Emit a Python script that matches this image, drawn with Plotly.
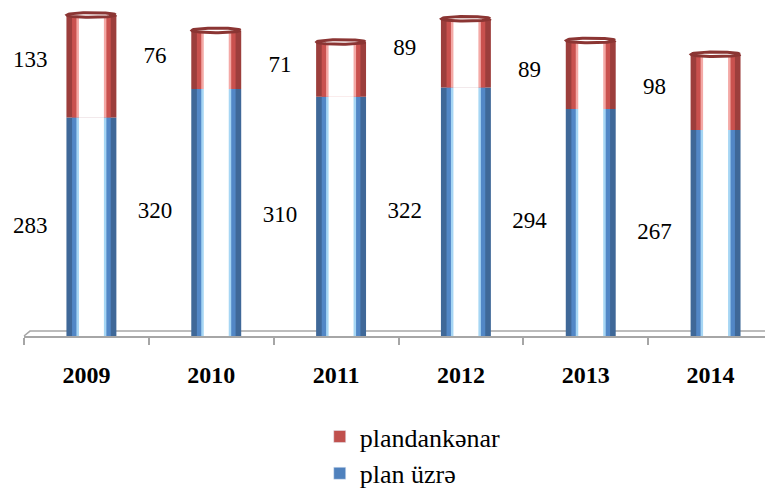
import numpy as np
import plotly.graph_objects as go

years = ['2009', '2010', '2011', '2012', '2013', '2014']
plan_uzre = [283, 320, 310, 322, 294, 267]
plandankenar = [133, 76, 71, 89, 89, 98]

x = list(range(len(years)))
totals = [a + b for a, b in zip(plan_uzre, plandankenar)]

fig = go.Figure()

# cylinder look: dark outer bar, lighter inner bars, white core
shift = 0.04
layers = [
    (0.40, '#3f6898', '#9c3e3c'),
    (0.31, '#5287c6', '#c9514e'),
    (0.24, '#a6d6f4', '#f4a9a6'),
    (0.20, 'white', 'white'),
]
for w, cb, cr in layers:
    fig.add_trace(go.Bar(x=x, y=plan_uzre, base=0, width=w, offset=-w / 2 + shift,
                         marker=dict(color=cb, line_width=0), showlegend=False, hoverinfo='skip'))
    fig.add_trace(go.Bar(x=x, y=plandankenar, base=plan_uzre, width=w, offset=-w / 2 + shift,
                         marker=dict(color=cr, line_width=0), showlegend=False, hoverinfo='skip'))

# top caps (ellipse)
t = np.linspace(0, 2 * np.pi, 60)
for i, tot in enumerate(totals):
    fig.add_trace(go.Scatter(x=i + shift + 0.195 * np.cos(t), y=tot + 3.0 * np.sin(t),
                             mode='lines', line=dict(color='#8b3533', width=3),
                             fill='toself', fillcolor='white', showlegend=False, hoverinfo='skip'))

# value labels left of bars
lab_font = dict(family='Liberation Serif', size=23, color='black')
fig.add_trace(go.Scatter(x=[i - 0.45 for i in x], y=[v / 2 for v in plan_uzre], mode='text',
                         text=[str(v) for v in plan_uzre], showlegend=False, hoverinfo='skip',
                         textfont=lab_font, cliponaxis=False))
fig.add_trace(go.Scatter(x=[i - 0.45 for i in x], y=[a + b * 0.55 for a, b in zip(plan_uzre, plandankenar)],
                         mode='text', text=[str(v) for v in plandankenar], showlegend=False, hoverinfo='skip',
                         textfont=lab_font, cliponaxis=False))

# legend entries
fig.add_trace(go.Bar(x=[None], y=[None], name='plandankənar', marker_color='#c0504d'))
fig.add_trace(go.Bar(x=[None], y=[None], name='plan üzrə', marker_color='#4f81bd'))

# 3d floor
fig.add_shape(type='path', xref='paper', yref='paper',
              path='M 0 0 L 0.008 0.015 L 1 0.015',
              line=dict(color='#a6a6a6', width=1.5), layer='below')

# page body adds 8px offset, so figure is 765x484
fig.update_layout(
    width=765, height=484,
    barmode='overlay',
    plot_bgcolor='white', paper_bgcolor='white',
    margin=dict(l=16, r=0, t=0, b=156, autoexpand=False),
    font=dict(family='Liberation Serif', color='black'),
    legend=dict(orientation='v', x=0.519, xanchor='center', y=-0.235, yanchor='top',
                font=dict(size=26, family='Liberation Serif'), itemwidth=30, tracegroupgap=0),
    xaxis=dict(range=[-0.5, 5.5], tickvals=x, ticktext=years, ticks='', showgrid=False,
               showline=True, linecolor='#a6a6a6', linewidth=1.5, zeroline=False, automargin=False,
               tickfont=dict(size=24, family='Liberation Serif', weight='bold'), ticklabelstandoff=16,
               minor=dict(ticks='outside', tick0=-0.5, dtick=1, ticklen=7, tickcolor='#a6a6a6',
                          tickwidth=1.5, showgrid=False)),
    yaxis=dict(range=[0, 425], visible=False, automargin=False),
)

fig.write_html("out.html")
